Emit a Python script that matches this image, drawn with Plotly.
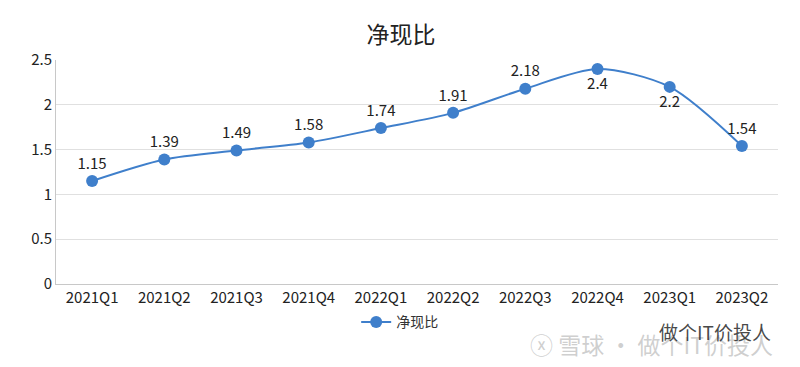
import plotly.graph_objects as go

categories = ["2021Q1", "2021Q2", "2021Q3", "2021Q4", "2022Q1", "2022Q2", "2022Q3", "2022Q4", "2023Q1", "2023Q2"]
values = [1.15, 1.39, 1.49, 1.58, 1.74, 1.91, 2.18, 2.4, 2.2, 1.54]
label_pos = ["top center"] * 7 + ["bottom center", "bottom center", "top center"]
series_name = "净现比"
y_ticks = [0, 0.5, 1, 1.5, 2, 2.5]
y_tick_labels = ["0", "0.5", "1", "1.5", "2", "2.5"]

FONT = "Noto Sans CJK SC, Noto Sans, sans-serif"

fig = go.Figure()
fig.add_trace(go.Scatter(
    x=categories, y=values, mode="lines+markers+text", name=series_name,
    line=dict(color="#3f7fcb", width=2, shape="spline", smoothing=0.8),
    marker=dict(size=12, color="#3f7fcb"),
    text=[str(v) for v in values], textposition=label_pos,
    textfont=dict(size=15, color="#222222", family=FONT),
    cliponaxis=False,
))

W, H = 792, 359
fig.update_layout(
    width=W, height=H,
    margin=dict(l=48, r=22, t=52, b=83, autoexpand=False),
    paper_bgcolor="white", plot_bgcolor="white",
    title=dict(text="净现比", xref="container", yref="container",
               x=393 / W, xanchor="center", y=1 - 27 / H, yanchor="middle",
               font=dict(size=23, color="#222222", family=FONT)),
    font=dict(family=FONT, color="#333333", size=14),
    showlegend=True,
    legend=dict(orientation="h", x=0.476, xanchor="center", y=-0.1, yanchor="top",
                font=dict(size=14, color="#333333", family=FONT),
                itemwidth=30),
    xaxis=dict(type="category", range=[-0.5, 9.5], showgrid=False, automargin=False,
               showline=True, linecolor="#c8c8c8", linewidth=1,
               ticks="", tickfont=dict(size=15, color="#222222")),
    yaxis=dict(range=[0, 2.5], tickvals=y_ticks, ticktext=y_tick_labels, automargin=False,
               showgrid=True, gridcolor="#e0e0e0", gridwidth=1,
               showline=True, linecolor="#c8c8c8", linewidth=1,
               zeroline=False, ticks="", tickfont=dict(size=15, color="#222222")),
)

# watermark
fig.add_annotation(text="ⓧ 雪球 · 做个IT价投人", xref="paper", yref="paper",
                   x=0.996, y=(276 - 336) / 224, xanchor="right", yanchor="middle", showarrow=False,
                   font=dict(size=23, color="rgba(175,175,175,0.6)", family=FONT))
fig.add_annotation(text="做个IT价投人", xref="paper", yref="paper",
                   x=0.993, y=(276 - 323) / 224, xanchor="right", yanchor="middle", showarrow=False,
                   font=dict(size=19, color="rgba(40,40,40,0.85)", family=FONT))

fig.write_html("out.html")
